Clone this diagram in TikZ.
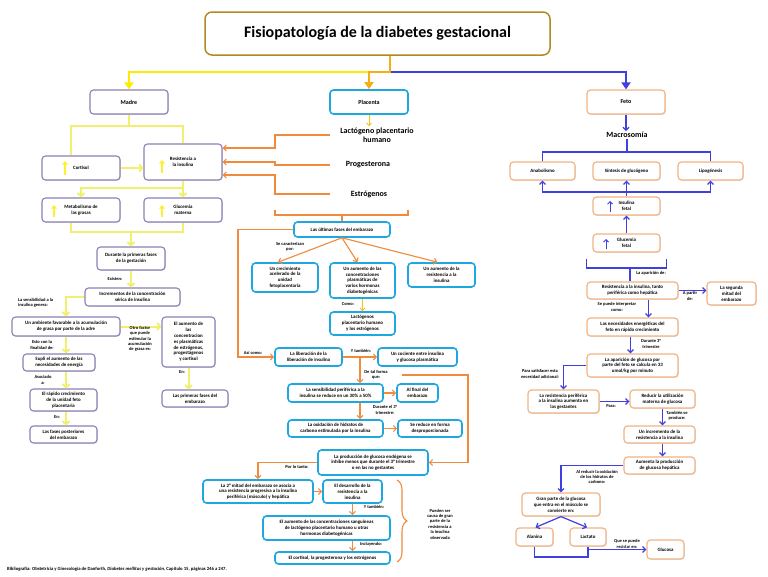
\documentclass[tikz,border=0pt]{standalone}
\usepackage{fontspec}
\setmainfont{Carlito}
\usetikzlibrary{arrows.meta,shadows,decorations.pathreplacing}
\definecolor{cgold}{RGB}{176,138,32}
\definecolor{cmadre}{RGB}{140,128,180}
\definecolor{cplac}{RGB}{30,167,225}
\definecolor{cfeto}{RGB}{240,180,135}
\definecolor{cyelb}{RGB}{255,235,0}
\definecolor{cyels}{RGB}{240,240,110}
\definecolor{corange}{RGB}{240,138,60}
\definecolor{ctitor}{RGB}{245,175,20}
\definecolor{cblue}{RGB}{64,64,224}
\newcommand\bxfont{\fontsize{4.9}{5.8}\selectfont\bfseries}
\newcommand\lbfont{\fontsize{4.5}{5.4}\selectfont\bfseries}
\tikzset{
  mbox/.style={draw=cmadre,line width=1.1pt,rounded corners=3.5pt,fill=white,
    align=center,font=\bxfont,inner sep=1pt,
    drop shadow={shadow xshift=0.8pt,shadow yshift=-0.8pt,opacity=0.25}},
  pbox/.style={draw=cplac,line width=1.6pt,rounded corners=3.5pt,fill=white,
    align=center,font=\bxfont,inner sep=1pt},
  fbox/.style={draw=cfeto,line width=1.2pt,rounded corners=3.5pt,fill=white,
    align=center,font=\bxfont,inner sep=1pt,
    drop shadow={shadow xshift=0.8pt,shadow yshift=-0.8pt,opacity=0.25}},
  wh/.style 2 args={minimum width=#1pt,minimum height=#2pt},
  lbl/.style={font=\lbfont,align=center,inner sep=0pt},
  hormone/.style={font=\fontsize{8}{9.5}\selectfont\bfseries,align=center,inner sep=1pt},
  headfont/.style={font=\fontsize{6}{7}\selectfont\bfseries},
  ylink/.style={draw=cyels,line width=2pt},
  yarr/.style={ylink,-{Straight Barb[length=3pt,width=7pt]}},
  ythin/.style={draw=ctitor!70!cyelb,line width=1pt,-{Straight Barb[length=2.5pt,width=5pt]}},
  upy/.style={draw=cyelb!80!white,line width=2.2pt,-{Triangle[length=3.5pt,width=6pt]}},
  olink/.style={draw=corange,line width=1.1pt},
  oarr/.style={olink,-{Straight Barb[length=3pt,width=6pt]}},
  blink/.style={draw=cblue,line width=1.2pt},
  barr/.style={blink,-{Straight Barb[length=3pt,width=6pt]}},
  upb/.style={draw=cblue,line width=1pt,-{Straight Barb[length=2.5pt,width=5pt]}},
  topl/.style={line width=2.8pt,-{Triangle[length=7pt,width=9pt]}}
}

\begin{document}
\begin{tikzpicture}[x=1pt,y=-1pt]
  \fill[white] (0,0) rectangle (768,576);
  \useasboundingbox (0,0) rectangle (768,576);

  % title and the three branches
  \node[draw=cgold,line width=1.5pt,rounded corners=7pt,minimum width=345pt,minimum height=43pt,
    font=\fontsize{16}{18}\selectfont\bfseries] (title) at (377.5,33.5) {Fisiopatología de la diabetes gestacional};
  \node[mbox,wh={78}{24},headfont] (madre) at (129,102) {Madre};
  \node[pbox,wh={78}{24},headfont] (placenta) at (369,102) {Placenta};
  \node[fbox,wh={78}{24},headfont] (feto) at (626,102) {Feto};
  \coordinate (hub) at (390,72);
  \draw[topl,cyelb] (hub) -| (madre.north);
  \draw[topl,cblue] (hub) -| (feto.north);
  \draw[topl,ctitor] ([xshift=12.5pt]title.south) -- (hub) -| (placenta.north);

  % Madre
  \node[mbox,wh={78}{24}] (cort) at (81,168) {Cortisol};
  \node[mbox,wh={78}{36}] (resist) at (183,162) {Resistencia a\\la insulina};
  \node[mbox,wh={78}{24}] (metab) at (81,210) {Metabolismo de\\las grasas};
  \node[mbox,wh={78}{24}] (gluc) at (183,210) {Glucemia\\materna};
  \draw[upy] ([xshift=-16pt,yshift=-7pt]cort.center) -- ([xshift=-16pt,yshift=7pt]cort.center);
  \draw[upy] ([xshift=-21pt,yshift=-11pt]resist.center) -- ([xshift=-21pt,yshift=2pt]resist.center);
  \draw[upy] ([xshift=-27pt,yshift=-7pt]metab.center) -- ([xshift=-27pt,yshift=5pt]metab.center);
  \draw[upy] ([xshift=-21pt,yshift=-7pt]gluc.center) -- ([xshift=-21pt,yshift=5pt]gluc.center);
  \coordinate (mj) at (129,126);
  \draw[ylink] (madre.south) -- (mj);
  \draw[ylink] ([xshift=-10pt]cort.north) |- (mj) -| (resist.north);
  \draw[yarr] (cort.east) -- (cort.east -| resist.west);
  \coordinate (rj) at (183,188);
  \draw[yarr] (resist.south) -- (gluc.north);
  \draw[yarr] (rj) -| (metab.north);

  \node[mbox,wh={68}{23}] (durante) at (131,258.5) {Durante la primeras fases\\de la gestación};
  \node[mbox,wh={95}{18}] (incr) at (132.5,297) {Incrementos de la concentración\\sérica de insulina};
  \node[mbox,wh={108}{19}] (amb) at (66,326.5) {Un ambiente favorable a la acumulación\\de grasa por parte de la adre};
  \node[mbox,wh={53}{50}] (aume) at (188.5,342) {El aumento de\\las\\concentracion\\es plasmáticas\\de estrógenos,\\progestágenos\\y cortisol};
  \node[mbox,wh={72}{17}] (supli) at (59,362.5) {Supli el aumento de las\\necesidades de energía};
  \node[mbox,wh={67}{22}] (rapido) at (63.5,400) {El rápido crecimiento\\de la unidad feto\\placentaria};
  \node[mbox,wh={67}{17}] (poster) at (63.5,434.5) {Las fases posteriores\\del embarazo};
  \node[mbox,wh={66}{17}] (primer) at (195,398.5) {Las primeras fases del\\embarazo};
  \coordinate (gj) at (131,232);
  \draw[ylink] ([xshift=-10pt]metab.south) |- (gj) -| (gluc.south);
  \draw[yarr] (gj) -- (durante.north);
  \draw[yarr] (durante.south) -- (durante.south |- incr.north);
  \draw[yarr] (incr.west) -| (amb.north);
  \draw[yarr] (amb.east) -- (amb.east -| aume.west);
  \draw[yarr] (amb.south) -- (amb.south |- supli.north);
  \draw[yarr] (supli.south -| amb.south) -- (rapido.north -| amb.south);
  \draw[yarr] (rapido.south -| amb.south) -- (poster.north -| amb.south);
  \draw[yarr] (aume.south) -- (aume.south |- primer.north);
  \node[lbl] (lexist) at (115,279) {Existen:};
  \node[lbl,anchor=west,align=left] (lsens) at (18,303) {La sensibilidad a la\\insulina genera:};
  \node[lbl] (lotro) at (140,339) {Otro factor\\que puede\\estimular la\\acumulación\\de grasa es:};
  \node[lbl] (lfin) at (42,345) {Esto con la\\finalidad de:};
  \node[lbl] (lasoc) at (43,380) {Asociado\\a:};
  \node[lbl] (len1) at (57,417) {En:};
  \node[lbl] (len2) at (182,372) {En:};

  % Placenta
  \node[hormone] (lact) at (377,135) {Lactógeno placentario\\humano};
  \node[hormone] (prog) at (368,165) {Progesterona};
  \node[hormone] (estr) at (369,194) {Estrógenos};
  \draw[ythin] (placenta.south) -- (placenta.south |- lact.north);
  \coordinate (ocol) at (330,0);
  \coordinate (obar) at (275,0);
  \draw[oarr] (lact.west -| ocol) -- (lact.west -| obar) |- ([yshift=14pt]resist.east);
  \draw[oarr] (prog.west -| ocol) -- (prog.west -| obar) |- (resist.east);
  \draw[oarr] (estr.west -| ocol) -- (estr.west -| obar) |- ([yshift=-13pt]resist.east);

  \node[pbox,wh={96}{15}] (ultimas) at (342,229.5) {Las últimas fases del embarazo};
  \draw[olink] (275,210) |- (342,215) -| (408,210);
  \draw[olink] (342,215) -- (ultimas.north);
  \node[pbox,wh={66}{29}] (crec) at (285,277.5) {Un crecimiento\\acelerado de la\\unidad\\fetoplacentaria};
  \node[pbox,wh={65}{35}] (hdiab) at (362.5,280.5) {Un aumento de las\\concentraciones\\plasmáticas de\\varios hormonas\\diabetogénicas};
  \node[pbox,wh={67}{24}] (rins) at (441.5,275) {Un aumento de la\\resistencia a la\\insulina};
  \node[pbox,wh={65}{23}] (lacest) at (362.5,323.5) {Lactógenos\\placentario humano\\y los estrógenos};
  \draw[oarr] (ultimas.south) -- ([xshift=-7pt]crec.north);
  \draw[oarr] (ultimas.south) -- ([xshift=-5pt]hdiab.north);
  \draw[oarr] (ultimas.south) -- ([xshift=-4pt]rins.north);
  \draw[ythin] (hdiab.south) -- (lacest.north);

  \node[pbox,wh={67}{18}] (liber) at (308.5,357) {La liberación de la\\liberación de insulina};
  \node[pbox,wh={79}{18}] (coci) at (417.5,357) {Un cociente entre insulina\\y glucosa plasmática};
  \node[pbox,wh={95}{18}] (sens) at (335.5,393) {La sensibilidad periférica a la\\insulina se reduce en un 30\% a 50\%};
  \node[pbox,wh={41}{18}] (alfin) at (417.5,393) {Al final del\\embarazo};
  \node[pbox,wh={95}{17}] (oxid) at (335.5,428.5) {La oxidación de hidratos de\\carbono estimulada por la insulina};
  \node[pbox,wh={64}{17}] (desp) at (430,428.5) {Se reduce en forma\\desproporcionada};
  \coordinate (ox) at (238,0);
  \draw[oarr] (ultimas.west) -- (ultimas.west -| ox) |- (liber.west);
  \draw[oarr] (liber.east) -- (coci.west);
  \coordinate (lc) at (360,357);
  \draw[oarr] (lc) -- (lc |- sens.north);
  \draw[oarr] (sens.east) -- (alfin.west);
  \draw[oarr] (lc |- sens.south) -- (lc |- oxid.north);
  \draw[oarr] (oxid.east) -- (desp.west);

  \node[pbox,wh={110}{25}] (prod) at (373,462.5) {La producción de glucosa endógena se\\inhibe menos que durante el 3° trimestre\\o en las no gestantes};
  \node[pbox,wh={110}{23}] (mitad) at (258,491.5) {La 2° mitad del embarazo se asocia a\\una resistencia progresiva a la insulina\\periférica (músculo) y hepática};
  \node[pbox,wh={59}{23}] (desarr) at (352.5,491.5) {El desarrollo de la\\resistencia a la\\insulina};
  \node[pbox,wh={127}{24}] (aumsang) at (326.5,528) {El aumento de las concentraciones sanguíneas\\de lactógeno placentario humano u otras\\hormonas diabetogénicas};
  \node[pbox,wh={115}{12}] (cortprog) at (332.5,558) {El cortisol, la progesterona y los estrógenos};
  \coordinate (ostart) at (402,375);
  \coordinate (oright) at (468,375);
  \draw[oarr] (ostart) -- (oright) |- (prod.east);
  \draw[oarr] (prod.west) -| (mitad.north);
  \draw[oarr] (mitad.east) -- (desarr.west);
  \draw[oarr] (desarr.south) -- (desarr.south |- aumsang.north);
  \draw[oarr] (aumsang.south -| desarr.south) -- (cortprog.north -| desarr.south);
  \draw[olink,decorate,decoration={brace,amplitude=10pt}] (397,480) -- (397,562);
  \node[lbl] (lcausa) at (440,524) {Pueden ser\\causa de gran\\parte de la\\resistencia a\\la insulina\\observada};
  \node[lbl] (lcarac) at (290,247) {Se caracterizan\\por:};
  \node[lbl] (lcomo) at (348,304) {Como:};
  \node[lbl] (lasi) at (253,353) {Así como:};
  \node[lbl] (ltamb1) at (361,351) {Y también:};
  \node[lbl] (ltal) at (376,375) {De tal forma\\que:};
  \node[lbl] (ldur) at (385,410) {Durante el 3°\\trimestre:};
  \node[lbl] (lpor) at (297,467) {Por lo tanto:};
  \node[lbl] (ltamb2) at (374,507) {Y también:};
  \node[lbl] (linc) at (371,544) {Incluyendo:};

  % Feto
  \node[font=\fontsize{8}{9.5}\selectfont\bfseries,inner sep=1pt] (macro) at (627,135) {Macrosomía};
  \draw[barr] (feto.south) -- (feto.south |- macro.north);
  \node[fbox,wh={65}{18}] (anab) at (542.5,171) {Anabolismo};
  \node[fbox,wh={67}{18}] (sint) at (626.5,171) {Síntesis de glucógeno};
  \node[fbox,wh={65}{18}] (lipo) at (710.5,171) {Lipogénesis};
  \node[fbox,wh={67}{18}] (insf) at (626.5,206) {Insulina\\fetal};
  \node[fbox,wh={67}{18}] (glf) at (626.5,243) {Glucemia\\fetal};
  \draw[upb] ([xshift=-16.5pt,yshift=-6pt]insf.center) -- ([xshift=-16.5pt,yshift=5pt]insf.center);
  \draw[upb] ([xshift=-20.5pt,yshift=-6pt]glf.center) -- ([xshift=-20.5pt,yshift=4pt]glf.center);
  \coordinate (fb) at (627,152);
  \draw[blink] (anab.north) |- (fb) -| (lipo.north);
  \draw[blink] (fb) -- (macro.south);
  \coordinate (fbus) at (626.5,192);
  \draw[barr] (insf.north) -- (sint.south);
  \draw[barr] (fbus) -| (anab.south);
  \draw[barr] (fbus) -| (lipo.south);
  \draw[barr] (glf.north) -- (insf.south);
  \coordinate (gb) at (630,268);
  \draw[blink] ([xshift=-40pt,yshift=-6pt]glf.south) |- (gb) -| ([xshift=40pt,yshift=-6pt]glf.south);

  \node[fbox,wh={91}{17}] (resis) at (632.5,290.5) {Resistencia a la insulina, tanto\\periférica como hepática};
  \node[fbox,wh={49}{23}] (segm) at (731.5,293.5) {La segunda\\mitad del\\embarazo};
  \node[fbox,wh={91}{18}] (nec) at (632.5,327) {Las necesidades energéticas del\\feto en rápido crecimiento};
  \node[fbox,wh={91}{23}] (apar) at (632.5,365.5) {La aparición de glucosa por\\parte del feto se calcula en 33\\umol/kg por minuto};
  \node[fbox,wh={71}{23}] (rper) at (563.5,401.5) {La resistencia periférica\\a la insulina aumenta en\\las gestantes};
  \node[fbox,wh={65}{18}] (redu) at (662.5,399) {Reducir la utilización\\materna de glucosa};
  \node[fbox,wh={71}{17}] (incrf) at (659.5,434.5) {Un incremento de la\\resistencia a la insulina};
  \node[fbox,wh={71}{17}] (aprod) at (659.5,465.5) {Aumenta la producción\\de glucosa hepática};
  \node[fbox,wh={78}{23}] (gran) at (561,504.5) {Gran parte de la glucosa\\que entra en el músculo se\\convierte en:};
  \node[fbox,wh={37}{18}] (alan) at (534.5,537) {Alanina};
  \node[fbox,wh={36}{18}] (lactat) at (588,537) {Lactato};
  \node[fbox,wh={37}{19}] (gluco) at (665.5,549.5) {Glucosa};
  \draw[blink] (gb) -- (gb |- resis.north);
  \draw[barr] (resis.east) -- (resis.east -| segm.west);
  \draw[barr] ([xshift=16pt]resis.south) -- ([xshift=16pt]resis.south |- nec.north);
  \draw[barr] ([xshift=-2pt]nec.south) -- ([xshift=-2pt]apar.north);
  \draw[barr] (apar.west) -| (rper.north);
  \draw[barr] (rper.east) -- (rper.east -| redu.west);
  \draw[barr] (redu.south) -- (redu.south |- incrf.north);
  \draw[barr] (incrf.south -| redu.south) -- (aprod.north -| redu.south);
  \draw[barr] (aprod.west) -| (gran.north);
  \draw[barr] (gran.south) -- ([xshift=1pt]alan.north);
  \draw[barr] (gran.south) -- ([xshift=-1pt]lactat.north);
  \coordinate (fj) at (588,557);
  \draw[blink] (alan.south) |- (fj) -- (lactat.south);
  \draw[barr] (lactat.south |- gluco.west) -- (gluco.west);
  \node[lbl] (laparic) at (651,273) {La aparición de:};
  \node[lbl] (lapartir) at (690,296) {A partir\\de:};
  \node[lbl] (linterp) at (617,307) {Se puede interpretar\\como:};
  \node[lbl] (ldurf) at (651,344) {Durante 3°\\trimestre};
  \node[lbl] (lsatis) at (540,374) {Para satisfacer esta\\necesidad adicional:};
  \node[lbl] (lpara) at (611,406) {Para:};
  \node[lbl] (ltambp) at (677,416) {También se\\produce:};
  \node[lbl] (lreduc) at (597,477) {Al reducir la oxidación\\de los hidratos de\\carbono:};
  \node[lbl] (lrecic) at (627,544) {Que se puede\\reciclar en:};

  % bibliography
  \node[anchor=west,font=\fontsize{4.7}{5.5}\selectfont\bfseries,inner sep=0pt] (biblio) at (7,569)
    {Bibliografía: Obstetricia y Ginecología de Danforth, \textit{Diabetes mellitus y gestación}, Capítulo 15, páginas 246 a 247.};
\end{tikzpicture}
\end{document}
